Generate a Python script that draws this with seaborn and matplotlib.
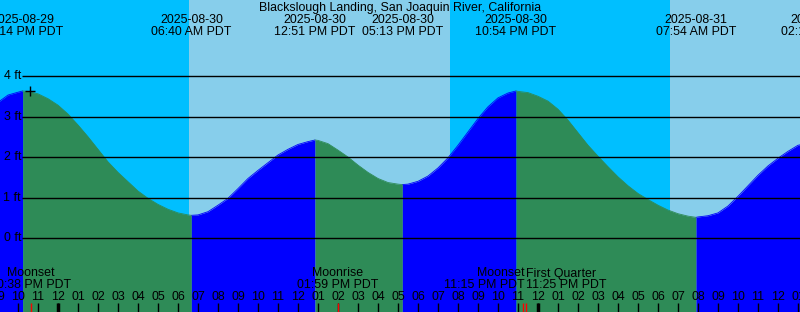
import matplotlib
matplotlib.use("Agg")
import matplotlib.pyplot as plt
import seaborn as sns
import pandas as pd
import numpy as np

# ---------------- data (hours relative to 2025-08-30 00:00 PDT) ----------------
tide_hours = [-3.0, -2.5, -2.0, -1.767, -1.5, -1.0, -0.5, 0.0, 0.5, 1.0, 1.5, 2.0,
              2.5, 3.0, 3.5, 4.0, 4.5, 5.0, 5.5, 6.0, 6.5, 6.667, 7.0, 7.5, 8.0,
              8.5, 9.0, 9.5, 10.0, 10.5, 11.0, 11.5, 12.0, 12.5, 12.85, 13.0, 13.5,
              14.0, 14.5, 15.0, 15.5, 16.0, 16.5, 17.0, 17.217, 17.5, 18.0, 18.5,
              19.0, 19.5, 20.0, 20.5, 21.0, 21.5, 22.0, 22.5, 22.9, 23.0, 23.5,
              24.0, 24.5, 25.0, 25.5, 26.0, 26.5, 27.0, 27.5, 28.0, 28.5, 29.0,
              29.5, 30.0, 30.5, 31.0, 31.5, 31.9, 32.0, 32.5, 33.0, 33.5, 34.0,
              34.5, 35.0, 35.5, 36.0, 36.5, 37.0, 37.1]
tide_feet = [3.35, 3.53, 3.60, 3.63, 3.62, 3.56, 3.44, 3.28, 3.06, 2.79, 2.50, 2.19,
             1.88, 1.62, 1.39, 1.16, 0.98, 0.83, 0.71, 0.62, 0.57, 0.56, 0.57, 0.65,
             0.81, 0.98, 1.22, 1.47, 1.67, 1.86, 2.05, 2.19, 2.31, 2.38, 2.42, 2.41,
             2.33, 2.17, 2.00, 1.80, 1.62, 1.47, 1.37, 1.33, 1.32, 1.33, 1.40, 1.53,
             1.73, 1.98, 2.29, 2.62, 2.95, 3.24, 3.46, 3.58, 3.63, 3.62, 3.59,
             3.50, 3.38, 3.18, 2.91, 2.60, 2.29, 2.02, 1.76, 1.51, 1.29, 1.10,
             0.95, 0.81, 0.69, 0.60, 0.54, 0.51, 0.52, 0.55, 0.62, 0.79, 1.03,
             1.29, 1.55, 1.78, 1.97, 2.14, 2.29, 2.30]

extreme_hours = [-1.767, 6.667, 12.85, 17.217, 22.9, 31.9, 38.17]
extreme_dates = ["2025-08-29", "2025-08-30", "2025-08-30", "2025-08-30",
                 "2025-08-30", "2025-08-31", "2025-08-31"]
extreme_times = ["10:14 PM PDT", "06:40 AM PDT", "12:51 PM PDT", "05:13 PM PDT",
                 "10:54 PM PDT", "07:54 AM PDT", "02:10 PM PDT"]

sunrise_hours = [6.55, 30.6]
sunset_hours = [-4.4, 19.6]

moon_hours = [-1.367, 13.983, 23.25, 23.417]
moon_names = ["Moonset", "Moonrise", "Moonset", "First Quarter"]
moon_times = ["10:38 PM PDT", "01:59 PM PDT", "11:15 PM PDT", "11:25 PM PDT"]
moon_align = ["center", "center", "right", "left"]

hour_ticks = list(range(-3, 38))
hour_labels = [f"{((h % 24) % 12) or 12:02d}" for h in hour_ticks]
midnight_ticks = [0, 24]

ft_levels = [0, 1, 2, 3, 4]
ft_labels = ["0 ft", "1 ft", "2 ft", "3 ft", "4 ft"]

marker_hour = [-1.4]
marker_feet = [3.63]

title = "Blackslough Landing, San Joaquin River, California"

# ---------------- styling / geometry ----------------
NIGHT = "#00BFFF"
DAY = "#87CEEB"
RISE = "#0000FF"
FALL = "#2E8B57"
W, H = 800, 312


def px2h(px):
    return (px - 58) / 20.0


def py2ft(py):
    return (238 - py) / 40.5


sns.set_theme(style="white")
plt.rcParams["font.family"] = ["Liberation Sans", "DejaVu Sans"]
plt.rcParams["text.color"] = "black"
FS = 8.9
TXT = dict(fontsize=FS, color="black", zorder=6)

fig = plt.figure(figsize=(W / 100, H / 100), dpi=100)
ax = fig.add_axes([0, 0, 1, 1])
x0, x1 = px2h(0), px2h(W)
y0, y1 = py2ft(H), py2ft(0)

# sky: night/day bands
ax.axvspan(x0, x1, color=NIGHT, lw=0, zorder=0)
for sr in sunrise_hours:
    nxt = [s for s in sunset_hours if s > sr]
    end = nxt[0] if nxt else x1
    ax.axvspan(sr, end, color=DAY, lw=0, zorder=0.5)

# tide fill split into rising / falling runs
hrs = np.array(tide_hours)
ft = np.array(tide_feet)
rising = np.diff(ft) > 0
rows = []
seg = 0
start = 0
for i in range(1, len(rising) + 1):
    if i == len(rising) or rising[i] != rising[start]:
        color = RISE if rising[start] else FALL
        ax.fill_between(hrs[start:i + 1], y0, ft[start:i + 1], color=color,
                        lw=0, zorder=1)
        for j in range(start, i + 1):
            rows.append({"hours": hrs[j], "feet": ft[j], "seg": seg,
                         "phase": "rise" if rising[start] else "fall"})
        seg += 1
        start = i
df = pd.DataFrame(rows)
sns.lineplot(data=df, x="hours", y="feet", hue="phase", units="seg",
             estimator=None, palette={"rise": RISE, "fall": FALL},
             legend=False, lw=0.6, ax=ax, zorder=1.5)
ax.set_xlim(x0, x1)
ax.set_ylim(y0, y1)
ax.axis("off")

# level lines and labels
ax.hlines(ft_levels, px2h(22), x1, color="black", lw=1, zorder=2)
for lv, lb in zip(ft_levels, ft_labels):
    ax.text(px2h(21), lv, lb, ha="right", va="center", **TXT)

# crosshair marker
ax.plot(marker_hour, marker_feet, marker="+", ms=7, mew=1, color="black",
        ls="none", zorder=3)

# top labels
ax.text(px2h(400), py2ft(7.5), title, ha="center", va="center", **TXT)
for h, d, t in zip(extreme_hours, extreme_dates, extreme_times):
    ax.text(h, py2ft(19.5), d, ha="center", va="center", **TXT)
    ax.text(h, py2ft(31.5), t, ha="center", va="center", **TXT)

# bottom: moon events
for h, n, t, a in zip(moon_hours, moon_names, moon_times, moon_align):
    xx = h + (0.1 if a == "right" else 0.0)
    ax.text(xx, py2ft(273.5), n, ha=a, va="center", **TXT)
    ax.text(xx, py2ft(285.5), t, ha=a, va="center", **TXT)

# hour labels and ticks
for h, lb in zip(hour_ticks, hour_labels):
    ax.text(h, py2ft(297.5), lb, ha="center", va="center", **TXT)
ax.vlines(hour_ticks, py2ft(H), py2ft(303), color="black", lw=1, zorder=4)
ax.vlines(midnight_ticks, py2ft(H), py2ft(303), color="black", lw=2.5, zorder=4)
ax.vlines(moon_hours, py2ft(H), py2ft(303), color="red", lw=1, zorder=4)

fig.savefig("out.png", dpi=100)
